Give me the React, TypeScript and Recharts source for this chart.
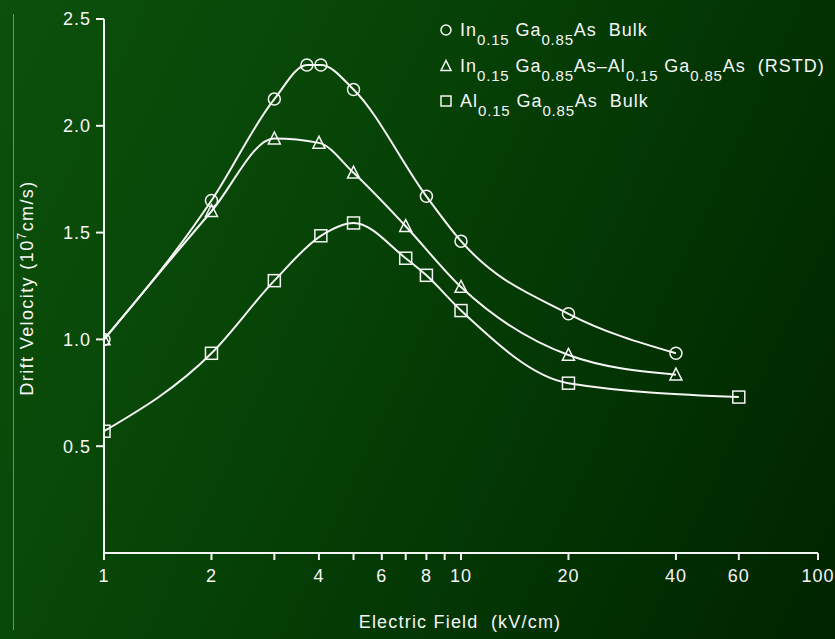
import React from 'react';
import { LineChart, Line, XAxis, YAxis, Legend, Label } from 'recharts';

const inGaAsX = [1, 2, 3, 3.7, 4.05, 5, 8, 10, 20, 40];
const inGaAsY = [1.0, 1.65, 2.125, 2.285, 2.285, 2.17, 1.67, 1.46, 1.12, 0.935];
const rstdX = [1, 2, 3, 4, 5, 7, 10, 20, 40];
const rstdY = [1.0, 1.6, 1.94, 1.92, 1.78, 1.53, 1.245, 0.927, 0.835];
const alGaAsX = [1, 2, 3, 4.05, 5, 7, 8, 10, 20, 60];
const alGaAsY = [0.57, 0.935, 1.275, 1.485, 1.545, 1.38, 1.3, 1.135, 0.795, 0.73];

const xTicks = [1, 2, 3, 4, 5, 6, 7, 8, 9, 10, 20, 40, 60, 100];
const xLabels = [1, 2, 4, 6, 8, 10, 20, 40, 60, 100];
const yTicks = [0.5, 1, 1.5, 2, 2.5];

type Part = [string, boolean];
const legendRows: { shape: string; parts: Part[] }[] = [
  { shape: 'circle', parts: [['In', false], ['0.15', true], [' Ga', false], ['0.85', true], ['As  Bulk', false]] },
  { shape: 'triangle', parts: [['In', false], ['0.15', true], [' Ga', false], ['0.85', true], ['As\u2013Al', false], ['0.15', true], [' Ga', false], ['0.85', true], ['As  (RSTD)', false]] },
  { shape: 'square', parts: [['Al', false], ['0.15', true], [' Ga', false], ['0.85', true], ['As  Bulk', false]] },
];

const toData = (xs: number[], ys: number[]) => xs.map((x, i) => ({ x, y: ys[i] }));
const inGaAsData = toData(inGaAsX, inGaAsY);
const rstdData = toData(rstdX, rstdY);
const alGaAsData = toData(alGaAsX, alGaAsY);

const FONT = '"Liberation Sans", Arial, Helvetica, sans-serif';
const WHITE = '#f5f5f5';

const Marker = ({ shape, cx, cy, s = 6 }: { shape: string; cx: number; cy: number; s?: number }) => {
  if (shape === 'circle') return <circle cx={cx} cy={cy} r={s} fill="none" stroke={WHITE} strokeWidth={1.5} />;
  if (shape === 'square') return <rect x={cx - s} y={cy - s} width={2 * s} height={2 * s} fill="none" stroke={WHITE} strokeWidth={1.5} />;
  const h = s * 1.1;
  return <polygon points={`${cx},${cy - h} ${cx - s},${cy + h * 0.8} ${cx + s},${cy + h * 0.8}`} fill="none" stroke={WHITE} strokeWidth={1.5} />;
};

const makeDot = (shape: string) => (p: any) => {
  if (p.cx == null || p.cy == null) return <g key={p.index} />;
  return <g key={`${shape}-${p.index}`}><Marker shape={shape} cx={p.cx} cy={p.cy} /></g>;
};

const LegendContent = () => (
  <div style={{ fontFamily: FONT, color: WHITE, fontSize: 18, lineHeight: '18px', letterSpacing: 1 }}>
    {legendRows.map((r, i) => (
      <div key={i} style={{ position: 'relative', height: 35.5, whiteSpace: 'nowrap' }}>
        <svg width={16} height={16} style={{ position: 'absolute', left: 0, top: 1 }}>
          <Marker shape={r.shape} cx={8} cy={8} s={5} />
        </svg>
        <span style={{ position: 'absolute', left: 22, top: 0 }}>
          {r.parts.map(([t, sub], j) =>
            sub ? (
              <span key={j} style={{ fontSize: 15, letterSpacing: 0.8, position: 'relative', top: 9 }}>{t}</span>
            ) : (
              <span key={j} style={{ whiteSpace: 'pre' }}>{t}</span>
            )
          )}
        </span>
      </div>
    ))}
  </div>
);

const XTitle = () => (
  <text x={460} y={628} textAnchor="middle" fill={WHITE} fontSize={18} fontFamily={FONT} letterSpacing={1.2} style={{ whiteSpace: 'pre' }}>
    Electric Field  (kV/cm)
  </text>
);

const YTitle = () => (
  <text x={33} y={288} transform="rotate(-90 33 288)" textAnchor="middle" fill={WHITE} fontSize={18} fontFamily={FONT} letterSpacing={1.4}>
    Drift Velocity (10<tspan dy={-7} fontSize={12}>7</tspan><tspan dy={7}>cm/s)</tspan>
  </text>
);

export default function App() {
  return (
    <div
      style={{
        position: 'absolute',
        left: 0,
        top: 0,
        width: 835,
        height: 639,
        overflow: 'hidden',
        background: 'linear-gradient(115deg, #0c500c 0%, #074507 35%, #033603 65%, #002400 100%)',
      }}
    >
      <div style={{ position: 'absolute', left: 13, top: 14, width: 1, height: 616, background: '#9aa89a', opacity: 0.7 }} />
      <LineChart width={835} height={639} margin={{ top: 19, right: 17, left: 0, bottom: 0 }}>
        <XAxis
          dataKey="x"
          type="number"
          scale="log"
          domain={[1, 100]}
          ticks={xTicks}
          allowDataOverflow
          height={86}
          interval={0}
          tickFormatter={(v: number) => (xLabels.includes(v) ? String(v) : '')}
          stroke={WHITE}
          strokeWidth={2}
          tickSize={7}
          tickMargin={9}
          tick={{ fill: WHITE, fontSize: 18, fontFamily: FONT, letterSpacing: 1 }}
        >
          <Label content={<XTitle />} />
        </XAxis>
        <YAxis
          type="number"
          domain={[0, 2.5]}
          ticks={yTicks}
          width={104}
          interval={0}
          tickFormatter={(v: number) => v.toFixed(1)}
          stroke={WHITE}
          strokeWidth={2}
          tickSize={8}
          tickMargin={5}
          tick={{ fill: WHITE, fontSize: 18, fontFamily: FONT, letterSpacing: 1 }}
        >
          <Label content={<YTitle />} />
        </YAxis>
        <Legend
          layout="vertical"
          align="center"
          verticalAlign="middle"
          content={<LegendContent />}
          wrapperStyle={{ top: 21, left: 438, width: 400 }}
        />
        <Line data={inGaAsData} dataKey="y" type="monotone" stroke={WHITE} strokeWidth={2} dot={makeDot('circle')} activeDot={false} isAnimationActive={false} />
        <Line data={rstdData} dataKey="y" type="monotone" stroke={WHITE} strokeWidth={2} dot={makeDot('triangle')} activeDot={false} isAnimationActive={false} />
        <Line data={alGaAsData} dataKey="y" type="monotone" stroke={WHITE} strokeWidth={2} dot={makeDot('square')} activeDot={false} isAnimationActive={false} />
      </LineChart>
    </div>
  );
}
